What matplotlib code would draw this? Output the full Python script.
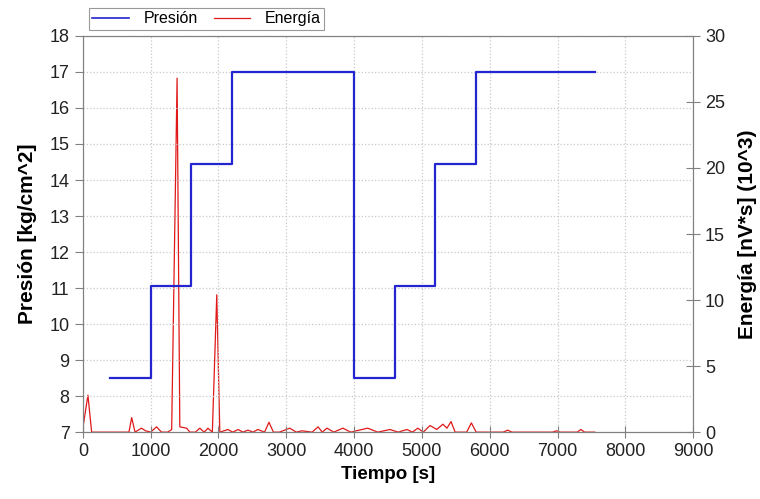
import matplotlib.pyplot as plt
from matplotlib.lines import Line2D

plt.rcParams['font.family'] = ['Liberation Sans', 'DejaVu Sans']

# Presión (escalones)
t_pres = [400, 1000, 1600, 2200, 4000, 4600, 5200, 5800, 7550]
presion = [8.5, 11.05, 14.45, 17.0, 8.5, 11.05, 14.45, 17.0, 17.0]

# Energía (x10^3)
t_ener = [0, 75, 130, 680, 720, 770, 865, 925, 1000, 1087, 1160, 1250, 1310, 1390, 1430,
          1530, 1580, 1660, 1725, 1790, 1845, 1910, 1975, 2020, 2140, 2210, 2290, 2360,
          2435, 2510, 2580, 2680, 2745, 2810, 2900, 3050, 3150, 3230, 3380, 3470, 3530,
          3600, 3700, 3835, 3950, 4200, 4350, 4530, 4650, 4780, 4860, 4940, 5020, 5120,
          5220, 5310, 5370, 5430, 5490, 5660, 5730, 5800, 6200, 6265, 6330, 6930, 6985,
          7040, 7290, 7345, 7400, 7550]
energia = [0.3, 2.8, 0.0, 0.0, 1.1, 0.0, 0.3, 0.1, 0.0, 0.4, 0.0, 0.0, 0.2, 26.8, 0.4,
           0.3, 0.0, 0.0, 0.3, 0.0, 0.3, 0.0, 10.4, 0.0, 0.2, 0.0, 0.2, 0.0,
           0.15, 0.0, 0.2, 0.0, 0.75, 0.0, 0.0, 0.3, 0.0, 0.1, 0.0, 0.4, 0.0,
           0.3, 0.0, 0.3, 0.0, 0.3, 0.0, 0.2, 0.0, 0.2, 0.0, 0.3, 0.0, 0.5,
           0.2, 0.6, 0.3, 0.8, 0.0, 0.0, 0.7, 0.0, 0.0, 0.15, 0.0, 0.0, 0.1,
           0.0, 0.0, 0.2, 0.0, 0.0]

fig = plt.figure(figsize=(7.6, 4.99), dpi=100)
ax = fig.add_axes([0.109, 0.134, 0.803, 0.794])
ax2 = ax.twinx()

ax.step(t_pres, presion, where='post', color='#2424d0', lw=1.6, zorder=3)
ax2.plot(t_ener, energia, color='#e01818', lw=0.9)
ax.set_zorder(ax2.get_zorder() + 1)
ax.patch.set_visible(False)

ax.set_xlim(0, 9000)
ax.set_ylim(7, 18)
ax2.set_ylim(0, 30)
ax.set_xticks(range(0, 9001, 1000))
ax.set_yticks(range(7, 19))
ax2.set_yticks(range(0, 31, 5))

ax.grid(True, color='#c8c8c8', linestyle=':', linewidth=0.9)

for a in (ax, ax2):
    for s in a.spines.values():
        s.set_color('#808080')
ax.tick_params(axis='y', direction='out', length=6, color='#808080', labelsize=13, labelcolor='#222222')
ax.tick_params(axis='x', direction='inout', length=8, color='#808080', labelsize=13, labelcolor='#222222')
ax2.tick_params(axis='y', direction='inout', length=10, color='#808080', labelsize=13, labelcolor='#222222')

ax.set_xlabel('Tiempo [s]', fontsize=13.5, fontweight='bold', labelpad=5)
ax.set_ylabel('Presión [kg/cm^2]', fontsize=15, fontweight='bold', labelpad=9)
ax2.set_ylabel('Energía [nV*s] (10^3)', fontsize=15, fontweight='bold', labelpad=9)

handles = [Line2D([0], [0], color='#2424d0', lw=1.2), Line2D([0], [0], color='#e01818', lw=0.9)]
leg = ax.legend(handles, ['Presión', 'Energía'], ncol=2, loc='lower left',
                bbox_to_anchor=(0.0, 1.0), fontsize=11.5, frameon=True, fancybox=False,
                borderpad=0.2, handlelength=2.3, handletextpad=0.9, columnspacing=1.0,
                borderaxespad=0.4)
leg.get_frame().set_edgecolor('#808080')
leg.get_frame().set_linewidth(0.8)

fig.savefig('out.png', dpi=100)
